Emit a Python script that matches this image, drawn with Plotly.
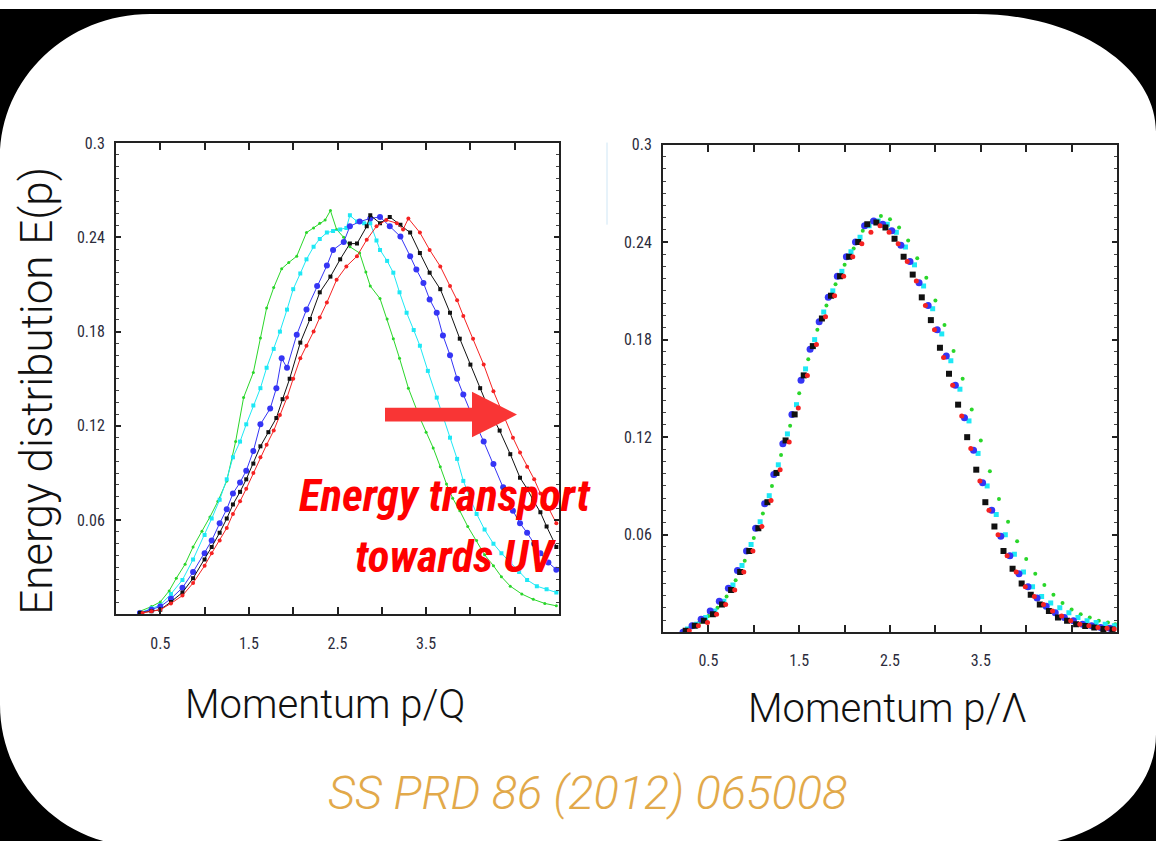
import plotly.graph_objects as go

W, H = 1156, 841

# ---------------- Left panel data (p/Q) ----------------
LG_x = [0.27, 0.40, 0.50, 0.60, 0.68, 0.78, 0.87, 0.97, 1.06, 1.15, 1.25, 1.35, 1.44, 1.55, 1.63, 1.70, 1.78, 1.87, 1.95, 2.04, 2.15, 2.23, 2.30, 2.36, 2.42, 2.49, 2.57, 2.64, 2.75, 2.82, 2.87, 2.98, 3.06, 3.13, 3.20, 3.30, 3.43, 3.50, 3.58, 3.66, 3.73, 3.80, 3.88, 3.97, 4.07, 4.16, 4.26, 4.35, 4.45, 4.58, 4.71, 4.84, 4.97]
LG_y = [0.002, 0.005, 0.008, 0.015, 0.023, 0.032, 0.043, 0.053, 0.062, 0.072, 0.085, 0.110, 0.138, 0.154, 0.176, 0.195, 0.208, 0.220, 0.224, 0.228, 0.243, 0.246, 0.249, 0.251, 0.257, 0.245, 0.240, 0.234, 0.230, 0.218, 0.209, 0.201, 0.188, 0.1755, 0.163, 0.144, 0.125, 0.116, 0.106, 0.094, 0.083, 0.074, 0.066, 0.056, 0.047, 0.038, 0.031, 0.024, 0.018, 0.013, 0.0096, 0.007, 0.0055]

LC_x = [0.27, 0.40, 0.50, 0.62, 0.75, 0.87, 1.00, 1.08, 1.17, 1.25, 1.32, 1.40, 1.47, 1.55, 1.63, 1.70, 1.78, 1.85, 1.93, 2.00, 2.08, 2.15, 2.23, 2.30, 2.38, 2.45, 2.53, 2.60, 2.64, 2.72, 2.80, 2.87, 2.94, 2.98, 3.06, 3.13, 3.20, 3.28, 3.36, 3.43, 3.52, 3.62, 3.70, 3.77, 3.85, 3.92, 4.00, 4.07, 4.16, 4.26, 4.35, 4.45, 4.55, 4.64, 4.75, 4.86, 4.97]
LC_y = [0.001, 0.004, 0.006, 0.013, 0.022, 0.035, 0.0506, 0.061, 0.073, 0.086, 0.100, 0.110, 0.121, 0.133, 0.144, 0.157, 0.169, 0.180, 0.194, 0.207, 0.217, 0.226, 0.234, 0.239, 0.243, 0.244, 0.245, 0.246, 0.254, 0.250, 0.249, 0.249, 0.238, 0.232, 0.225, 0.2175, 0.205, 0.192, 0.181, 0.171, 0.155, 0.138, 0.125, 0.1125, 0.099, 0.085, 0.074, 0.064, 0.054, 0.045, 0.039, 0.033, 0.027, 0.022, 0.018, 0.016, 0.014]

LB_x = [0.27, 0.40, 0.50, 0.62, 0.75, 0.87, 1.00, 1.08, 1.17, 1.25, 1.32, 1.40, 1.47, 1.55, 1.63, 1.74, 1.81, 1.87, 1.93, 2.04, 2.15, 2.27, 2.38, 2.45, 2.57, 2.64, 2.75, 2.87, 2.98, 3.09, 3.21, 3.32, 3.39, 3.47, 3.54, 3.62, 3.69, 3.77, 3.85, 3.92, 4.03, 4.15, 4.26, 4.37, 4.48, 4.56, 4.64, 4.72, 4.79, 4.88, 4.97]
LB_y = [0.001, 0.003, 0.005, 0.010, 0.017, 0.027, 0.039, 0.047, 0.058, 0.067, 0.077, 0.084, 0.0915, 0.104, 0.121, 0.131, 0.144, 0.163, 0.157, 0.178, 0.194, 0.209, 0.222, 0.232, 0.237, 0.247, 0.250, 0.252, 0.253, 0.247, 0.2405, 0.228, 0.2195, 0.211, 0.2005, 0.192, 0.1775, 0.165, 0.150, 0.140, 0.125, 0.110, 0.0957, 0.081, 0.066, 0.058, 0.052, 0.045, 0.039, 0.033, 0.0285]

LK_x = [0.27, 0.40, 0.50, 0.62, 0.75, 0.87, 1.00, 1.08, 1.17, 1.25, 1.32, 1.40, 1.47, 1.55, 1.63, 1.72, 1.81, 1.88, 1.96, 2.08, 2.19, 2.30, 2.42, 2.53, 2.64, 2.72, 2.83, 2.87, 2.98, 3.09, 3.21, 3.32, 3.43, 3.54, 3.66, 3.77, 3.88, 4.00, 4.11, 4.22, 4.33, 4.45, 4.56, 4.64, 4.71, 4.79, 4.86, 4.97]
LK_y = [0.001, 0.002, 0.003, 0.008, 0.014, 0.023, 0.035, 0.043, 0.052, 0.061, 0.070, 0.078, 0.086, 0.096, 0.107, 0.116, 0.125, 0.137, 0.150, 0.173, 0.188, 0.205, 0.215, 0.226, 0.236, 0.236, 0.247, 0.254, 0.249, 0.253, 0.248, 0.243, 0.230, 0.2175, 0.207, 0.192, 0.1755, 0.159, 0.144, 0.129, 0.117, 0.102, 0.087, 0.080, 0.0726, 0.065, 0.056, 0.043]

LR_x = [0.30, 0.40, 0.50, 0.62, 0.75, 0.87, 1.00, 1.08, 1.17, 1.25, 1.32, 1.40, 1.47, 1.55, 1.63, 1.70, 1.78, 1.85, 1.93, 2.00, 2.08, 2.15, 2.23, 2.30, 2.38, 2.49, 2.60, 2.72, 2.83, 2.94, 3.05, 3.17, 3.24, 3.30, 3.43, 3.54, 3.66, 3.77, 3.85, 3.92, 4.03, 4.15, 4.26, 4.37, 4.48, 4.56, 4.64, 4.72, 4.79, 4.88, 4.97]
LR_y = [0.001, 0.002, 0.003, 0.007, 0.012, 0.020, 0.031, 0.039, 0.047, 0.055, 0.064, 0.072, 0.080, 0.090, 0.100, 0.108, 0.117, 0.127, 0.138, 0.150, 0.163, 0.171, 0.180, 0.189, 0.1985, 0.213, 0.2215, 0.228, 0.2385, 0.247, 0.251, 0.249, 0.245, 0.252, 0.243, 0.232, 0.2215, 0.209, 0.200, 0.190, 0.1755, 0.159, 0.142, 0.127, 0.1125, 0.103, 0.094, 0.086, 0.077, 0.068, 0.058]

# ---------------- Right panel data (p/Lambda) ----------------
RG_x = [0.30, 0.40, 0.50, 0.60, 0.70, 0.80, 0.90, 1.00, 1.10, 1.20, 1.30, 1.40, 1.50, 1.60, 1.70, 1.80, 1.90, 2.00, 2.10, 2.20, 2.30, 2.40, 2.50, 2.60, 2.70, 2.80, 2.90, 3.00, 3.10, 3.20, 3.30, 3.40, 3.50, 3.60, 3.70, 3.80, 3.90, 4.00, 4.10, 4.20, 4.30, 4.40, 4.50, 4.60, 4.70, 4.80, 4.90, 4.98]
RG_y = [0.003, 0.006, 0.010, 0.015, 0.022, 0.032, 0.044, 0.058, 0.073, 0.090, 0.109, 0.127, 0.147, 0.168, 0.186, 0.201, 0.214, 0.226, 0.236, 0.247, 0.253, 0.256, 0.254, 0.249, 0.241, 0.230, 0.218, 0.204, 0.189, 0.173, 0.156, 0.137, 0.118, 0.099, 0.082, 0.068, 0.056, 0.045, 0.036, 0.029, 0.023, 0.018, 0.014, 0.011, 0.009, 0.007, 0.006, 0.005]

RC_x = [0.27, 0.37, 0.47, 0.57, 0.67, 0.77, 0.87, 0.97, 1.07, 1.17, 1.27, 1.37, 1.47, 1.57, 1.67, 1.77, 1.87, 1.97, 2.07, 2.17, 2.27, 2.37, 2.47, 2.57, 2.67, 2.77, 2.87, 2.97, 3.07, 3.17, 3.27, 3.37, 3.47, 3.57, 3.67, 3.77, 3.87, 3.97, 4.07, 4.17, 4.27, 4.37, 4.47, 4.57, 4.67, 4.77, 4.87, 4.97]
RC_y = [0.002, 0.005, 0.009, 0.013, 0.019, 0.029, 0.041, 0.054, 0.068, 0.084, 0.103, 0.122, 0.140, 0.162, 0.180, 0.197, 0.210, 0.222, 0.234, 0.243, 0.250, 0.253, 0.251, 0.246, 0.237, 0.226, 0.213, 0.199, 0.1835, 0.167, 0.1495, 0.130, 0.110, 0.090, 0.0725, 0.060, 0.048, 0.037, 0.028, 0.022, 0.018, 0.015, 0.012, 0.009, 0.007, 0.006, 0.005, 0.004]

RB_x = [0.22, 0.32, 0.42, 0.52, 0.62, 0.72, 0.82, 0.92, 1.02, 1.12, 1.22, 1.32, 1.42, 1.52, 1.62, 1.72, 1.82, 1.92, 2.02, 2.12, 2.22, 2.32, 2.42, 2.52, 2.62, 2.72, 2.82, 2.92, 3.02, 3.12, 3.22, 3.32, 3.42, 3.52, 3.62, 3.72, 3.82, 3.92, 4.02, 4.12, 4.22, 4.32, 4.42, 4.52, 4.62, 4.72, 4.82, 4.92]
RB_y = [0.000, 0.004, 0.008, 0.013, 0.019, 0.027, 0.038, 0.050, 0.064, 0.079, 0.097, 0.116, 0.134, 0.155, 0.174, 0.191, 0.206, 0.219, 0.231, 0.240, 0.250, 0.253, 0.251, 0.247, 0.238, 0.228, 0.215, 0.201, 0.186, 0.170, 0.152, 0.132, 0.112, 0.092, 0.075, 0.059, 0.047, 0.036, 0.028, 0.021, 0.016, 0.012, 0.009, 0.007, 0.005, 0.004, 0.003, 0.0025]

RK_x = [0.25, 0.35, 0.45, 0.55, 0.65, 0.75, 0.85, 0.95, 1.05, 1.15, 1.25, 1.35, 1.45, 1.55, 1.65, 1.75, 1.85, 1.95, 2.05, 2.15, 2.25, 2.35, 2.45, 2.55, 2.65, 2.75, 2.85, 2.95, 3.05, 3.15, 3.25, 3.35, 3.45, 3.55, 3.65, 3.75, 3.85, 3.95, 4.05, 4.15, 4.25, 4.35, 4.45, 4.55, 4.65, 4.75, 4.85, 4.95]
RK_y = [0.001, 0.004, 0.007, 0.011, 0.017, 0.026, 0.037, 0.050, 0.064, 0.080, 0.098, 0.118, 0.134, 0.158, 0.176, 0.193, 0.207, 0.219, 0.231, 0.240, 0.251, 0.252, 0.249, 0.242, 0.231, 0.220, 0.206, 0.192, 0.175, 0.159, 0.140, 0.120, 0.100, 0.080, 0.065, 0.050, 0.039, 0.030, 0.023, 0.017, 0.013, 0.009, 0.007, 0.005, 0.0038, 0.003, 0.002, 0.0017]

RR_x = [0.29, 0.39, 0.49, 0.59, 0.69, 0.79, 0.89, 0.99, 1.09, 1.19, 1.29, 1.39, 1.49, 1.59, 1.69, 1.79, 1.89, 1.99, 2.09, 2.19, 2.29, 2.39, 2.49, 2.59, 2.69, 2.79, 2.89, 2.99, 3.09, 3.19, 3.29, 3.39, 3.49, 3.59, 3.69, 3.79, 3.89, 3.99, 4.09, 4.19, 4.29, 4.39, 4.49, 4.59, 4.69, 4.79, 4.89, 4.97]
RR_y = [0.001, 0.004, 0.006, 0.011, 0.017, 0.026, 0.037, 0.050, 0.065, 0.081, 0.100, 0.117, 0.138, 0.158, 0.177, 0.194, 0.207, 0.219, 0.231, 0.239, 0.246, 0.250, 0.246, 0.239, 0.228, 0.216, 0.201, 0.186, 0.169, 0.152, 0.133, 0.113, 0.093, 0.075, 0.060, 0.047, 0.037, 0.028, 0.022, 0.017, 0.013, 0.010, 0.007, 0.005, 0.004, 0.003, 0.0025, 0.002]

# ticks / labels
X_TICKS = [0.5, 1.0, 1.5, 2.0, 2.5, 3.0, 3.5, 4.0, 4.5]
X_TICKTEXT = ["0.5", "", "1.5", "", "2.5", "", "3.5", "", ""]
Y_TICKS = [0.06, 0.12, 0.18, 0.24, 0.3]
Y_TICKTEXT = ["0.06", "0.12", "0.18", "0.24", "0.3"]

GREEN, CYAN, BLUE, BLACK, RED = "#2ad62a", "#1ee8f5", "#3535f5", "#111111", "#f52222"


def px(x):
    return x / W


def py(y):
    return 1 - y / H


fig = go.Figure()

left_series = [
    (LG_x, LG_y, GREEN, "circle", 3),
    (LC_x, LC_y, CYAN, "square", 4),
    (LB_x, LB_y, BLUE, "circle", 6),
    (LK_x, LK_y, BLACK, "square", 4),
    (LR_x, LR_y, RED, "circle", 4),
]
for xs, ys, c, sym, sz in left_series:
    fig.add_trace(go.Scatter(x=xs, y=ys, mode="lines+markers", xaxis="x", yaxis="y",
                             line=dict(color=c, width=1),
                             marker=dict(color=c, symbol=sym, size=sz, line=dict(width=0)),
                             showlegend=False, hoverinfo="skip"))

right_series = [
    (RG_x, RG_y, GREEN, "circle", 4),
    (RC_x, RC_y, CYAN, "square", 5),
    (RB_x, RB_y, BLUE, "circle", 7),
    (RK_x, RK_y, BLACK, "square", 6),
    (RR_x, RR_y, RED, "circle", 5),
]
for xs, ys, c, sym, sz in right_series:
    fig.add_trace(go.Scatter(x=xs, y=ys, mode="markers", xaxis="x2", yaxis="y2",
                             marker=dict(color=c, symbol=sym, size=sz, line=dict(width=0)),
                             showlegend=False, hoverinfo="skip"))

tickfont = dict(family="Liberation Sans Narrow, Roboto Condensed, Liberation Sans, Arial", size=16, color="#2c2c3c")

xax = dict(range=[0, 5], tickmode="array", tickvals=X_TICKS, ticktext=X_TICKTEXT,
           ticks="inside", ticklen=7, tickwidth=2, tickcolor="#222222",
           showline=True, linewidth=2, linecolor="#222222", mirror="ticks",
           showgrid=False, zeroline=False, tickfont=tickfont, ticklabelstandoff=13)
yax = dict(range=[0, 0.3], tickmode="array", tickvals=Y_TICKS, ticktext=Y_TICKTEXT,
           ticks="inside", ticklen=5, tickwidth=2, tickcolor="#222222",
           minor=dict(tickmode="linear", tick0=0, dtick=0.0075, ticks="inside", ticklen=3,
                      tickwidth=1, tickcolor="#444444", showgrid=False),
           showline=True, linewidth=2, linecolor="#222222", mirror="ticks",
           showgrid=False, zeroline=False, tickfont=tickfont, ticklabelstandoff=6)

fig.update_layout(
    width=W, height=H,
    margin=dict(l=0, r=0, t=0, b=0),
    paper_bgcolor="white", plot_bgcolor="white",
    xaxis=dict(xax, domain=[px(116), px(559)], anchor="y"),
    yaxis=dict(yax, domain=[py(612), py(135.5)], anchor="x"),
    xaxis2=dict(xax, domain=[px(663), px(1117)], anchor="y2"),
    yaxis2=dict(yax, domain=[py(630), py(137)], anchor="x2"),
)

# black rounded-card corners and thin top strip
k = 0.5523
corner_paths = [
    f"M {px(0)},{py(0)} L {px(W)},{py(0)} L {px(W)},{py(5)} L {px(0)},{py(5)} Z",
    f"M {px(0)},{py(0)} L {px(150)},{py(0)} L {px(150)},{py(5)} "
    f"C {px(150 - k*150)},{py(5)} {px(0)},{py(150 - k*145)} {px(0)},{py(150)} Z",
    f"M {px(W)},{py(0)} L {px(976)},{py(0)} L {px(976)},{py(5)} "
    f"C {px(976 + k*180)},{py(5)} {px(W)},{py(124 - k*119)} {px(W)},{py(124)} Z",
    f"M {px(W)},{py(H)} L {px(W)},{py(733)} "
    f"C {px(W)},{py(733 + k*113)} {px(1016 + k*140)},{py(846)} {px(1016)},{py(846)} "
    f"L {px(W)},{py(846)} Z",
    f"M {px(0)},{py(H)} L {px(0)},{py(703)} "
    f"C {px(0)},{py(703 + k*143)} {px(140 - k*140)},{py(846)} {px(140)},{py(846)} "
    f"L {px(0)},{py(846)} Z",
]
for p in corner_paths:
    fig.add_shape(type="path", xref="paper", yref="paper", path=p,
                  fillcolor="black", line=dict(width=0), layer="below")

# keep the right edge of the card white between the rounded corners
fig.add_shape(type="rect", xref="paper", yref="paper", x0=px(1130), x1=1.02, y0=py(730), y1=py(128),
              fillcolor="white", line=dict(width=0), layer="above")

# faint artifact line left of right panel
fig.add_shape(type="line", xref="paper", yref="paper", x0=px(607), x1=px(607), y0=py(135), y1=py(218),
              line=dict(color="#cfe6f5", width=1), layer="below")

# red arrow
arrow = (
    f"M {px(385)},{py(403)} L {px(472)},{py(403)} L {px(472)},{py(387)} L {px(517)},{py(410)} "
    f"L {px(472)},{py(433)} L {px(472)},{py(417)} L {px(385)},{py(417)} Z"
)
fig.add_shape(type="path", xref="paper", yref="paper", path=arrow,
              fillcolor="#f93535", line=dict(width=0), layer="above")

title_font = dict(family="Roboto, Helvetica Neue, Liberation Sans", size=40, weight=300, color="#111111")
ytitle_font = dict(title_font, size=44)

fig.add_annotation(text="Energy distribution E(p)", xref="paper", yref="paper", x=px(37), y=py(386),
                   textangle=-90, showarrow=False, font=ytitle_font, xanchor="center", yanchor="middle")
fig.add_annotation(text="Momentum p/Q", xref="paper", yref="paper", x=px(325), y=py(703),
                   showarrow=False, font=title_font, xanchor="center", yanchor="middle")
fig.add_annotation(text="Momentum p/Λ", xref="paper", yref="paper", x=px(887), y=py(707),
                   showarrow=False, font=title_font, xanchor="center", yanchor="middle")
fig.add_annotation(text="SS PRD 86 (2012) 065008", xref="paper", yref="paper", x=px(587), y=py(792),
                   showarrow=False, xanchor="center", yanchor="middle",
                   font=dict(family="Roboto, Helvetica Neue, Liberation Sans", size=47, weight=300,
                             style="italic", color="#e2a94a"))

red_font = dict(family="Liberation Sans Narrow, Roboto Condensed, DejaVu Sans Condensed, Liberation Sans",
                size=45, weight="bold", style="italic", color="#ff0000")
fig.add_annotation(text="Energy transport", xref="paper", yref="paper", x=px(445), y=py(492),
                   showarrow=False, font=red_font, xanchor="center", yanchor="middle")
fig.add_annotation(text="towards UV", xref="paper", yref="paper", x=px(455), y=py(553),
                   showarrow=False, font=red_font, xanchor="center", yanchor="middle")

fig.write_html("out.html")
